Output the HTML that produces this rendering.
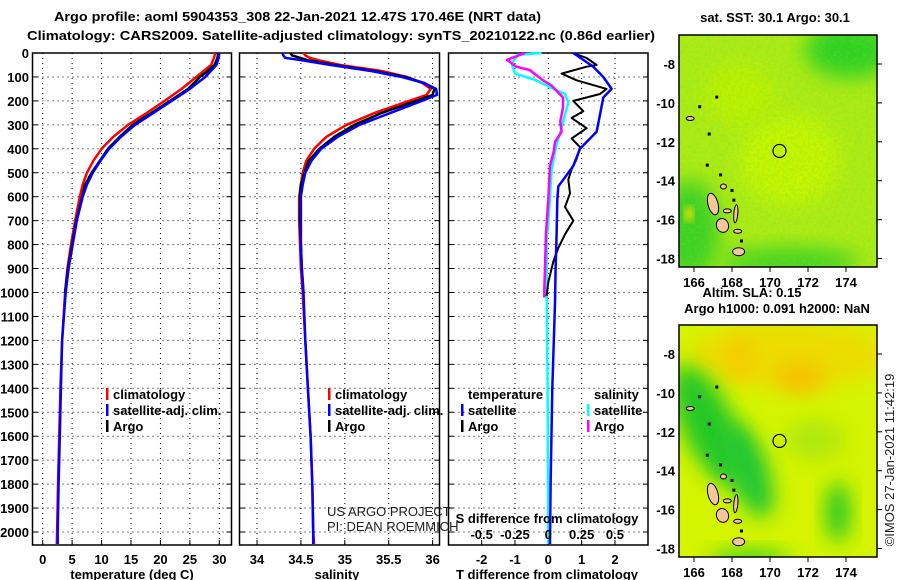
<!DOCTYPE html>
<html><head><meta charset="utf-8"><style>
body{margin:0;background:#fff;width:900px;height:580px;overflow:hidden}
svg{display:block}
text{font-family:"Liberation Sans",Arial,sans-serif;font-weight:bold;font-size:13px;fill:#000}
.thin{font-weight:normal;fill:#222}
</style></head><body>
<svg id="fig" width="900" height="580" viewBox="0 0 900 580" xmlns="http://www.w3.org/2000/svg">
<defs>
<filter id="blur8" x="-50%" y="-50%" width="200%" height="200%"><feGaussianBlur stdDeviation="10"/></filter>
<filter id="blur3"><feGaussianBlur stdDeviation="4"/></filter>
<filter id="noise" x="0" y="0" width="100%" height="100%">
  <feTurbulence type="fractalNoise" baseFrequency="0.35" numOctaves="1" seed="3" result="t"/>
  <feComponentTransfer in="t"><feFuncR type="discrete" tableValues="0 0.3 0.6 1"/><feFuncG type="discrete" tableValues="0 0.3 0.6 1"/><feFuncB type="discrete" tableValues="0 0.3 0.6 1"/></feComponentTransfer>
  <feColorMatrix type="matrix" values="0 0 0 0 0.1  0 0 0 0 0.8  0 0 0 0 0.05  1 0 0 0 -0.3"/>
</filter>
<clipPath id="cpTop"><rect x="679" y="35" width="198" height="232"/></clipPath>
<clipPath id="cpBot"><rect x="679" y="325" width="198" height="232"/></clipPath>
</defs>
<text x="54" y="21" textLength="487" lengthAdjust="spacingAndGlyphs" font-size="15.5">Argo profile: aoml 5904353_308 22-Jan-2021 12.47S 170.46E (NRT data)</text>
<text x="27" y="40" textLength="628" lengthAdjust="spacingAndGlyphs" font-size="15.5">Climatology: CARS2009. Satellite-adjusted climatology: synTS_20210122.nc (0.86d earlier)</text>
<g id="plots"></g>
<g id="maps"></g>
</svg>
<script>
// ---- data ----
const tempDepth = [0,20,50,100,150,200,250,300,350,400,450,500,550,600,700,800,900,1000,1200,1400,1600,1800,2000,2050];
const tempClim  = [29.3,29.1,28.6,26.1,23.6,20.7,17.7,14.5,12.0,10.0,8.6,7.5,6.8,6.3,5.5,4.8,4.2,3.8,3.3,3.0,2.8,2.6,2.45,2.4];
const tempSat   = [30.0,29.9,29.5,27.6,25.0,21.9,18.8,15.7,13.3,11.3,9.8,8.5,7.5,6.8,5.8,5.1,4.4,3.9,3.3,3.1,2.9,2.7,2.55,2.55];
const argoDepth = [0,20,50,80,100,150,200,250,300,350,400,450,500,550,600,700,800,900,1000];
const tempArgo  = [29.8,29.7,29.2,27.8,26.7,24.7,21.6,18.5,15.3,13.1,11.1,9.7,8.3,7.2,6.7,5.7,5.0,4.3,3.8];
const salDepth  = [0,10,20,30,50,75,100,125,150,175,200,250,300,350,400,450,500,550,600,700,800,900,1000,1200,1400,1600,1800,2000,2050];
const salClim   = [34.53,34.55,34.6,34.7,34.95,35.42,35.71,35.88,35.98,35.93,35.73,35.34,35.02,34.79,34.65,34.56,34.52,34.5,34.48,34.48,34.49,34.5,34.52,34.55,34.58,34.61,34.63,34.64,34.65];
const salSat    = [34.29,34.3,34.32,34.5,34.84,35.3,35.65,35.9,36.04,36.05,35.88,35.52,35.17,34.92,34.73,34.62,34.55,34.52,34.5,34.5,34.5,34.51,34.53,34.55,34.58,34.61,34.63,34.64,34.64];
const salArgoD  = [0,10,30,50,75,100,125,150,175,200,250,300,350,400,450,500,550,600,700,800,900,1000];
const salArgo   = [34.38,34.4,34.58,34.88,35.34,35.69,35.9,36.02,36.0,35.81,35.42,35.11,34.88,34.71,34.59,34.54,34.5,34.49,34.49,34.5,34.51,34.53];
const tdSatD    = [0,29,57,100,150,186,257,329,400,471,529,557,614,757,900,1043,1400,1800,2050];
const tdSat     = [0.75,1.05,1.35,1.65,1.9,1.65,1.55,1.45,0.95,0.75,0.45,0.3,0.27,0.25,0.22,0.2,0.12,0.07,0.05];
const tdArgoD   = [0,21,50,57,86,114,150,171,200,243,271,314,357,393,443,486,529,586,643,700,757,814,871,957,1014];
const tdArgo    = [0.75,1.15,1.45,1.15,0.4,0.85,1.75,1.55,0.75,1.05,0.7,1.15,0.7,0.95,0.85,0.7,0.6,0.65,0.5,0.75,0.5,0.3,0.15,0.0,-0.05];
const sdSatD    = [0,7,43,86,114,143,171,207,257,314,386,486,614,786,1000,1400,2050];
const sdSat     = [-0.05,-0.225,-0.275,-0.25,-0.09,0.01,0.125,0.15,0.125,0.1,0.06,0.025,0.012,-0.012,-0.012,-0.005,0.0];
const sdArgoD   = [0,29,57,71,114,136,186,229,286,329,371,414,471,614,757,900,986,1021];
const sdArgo    = [-0.175,-0.31,-0.24,-0.14,-0.04,0.025,0.11,0.11,0.09,0.1,0.05,0.04,0.012,0.0,-0.018,-0.025,-0.03,-0.03];
const depthTicks = [0,100,200,300,400,500,600,700,800,900,1000,1100,1200,1300,1400,1500,1600,1700,1800,1900,2000];
const tempTicks = [0,5,10,15,20,25,30];
const salTicks = [34,34.5,35,35.5,36];
const tdTicks = [-2,-1,0,1,2];
const sdTicks = [-0.5,-0.25,0,0.25,0.5];
const lonTicks = [166,168,170,172,174];
const latTicks = [-8,-10,-12,-14,-16,-18];

const NS='http://www.w3.org/2000/svg';
function mk(tag,attrs,parent,txt){const e=document.createElementNS(NS,tag);for(const k in attrs)e.setAttribute(k,attrs[k]);if(txt!==undefined)e.textContent=txt;parent.appendChild(e);return e;}
const plots=document.getElementById('plots');
const yD=d=>53+d*0.2395;
const yTop=53,yBot=545;
const panels=[{x0:32.5,x1:231.5},{x0:239.5,x1:439.5},{x0:448.5,x1:648}];
const xT=v=>42.7+v*(219.3-42.7)/30;
const xS=v=>257+(v-34)*87.8;
const xTD=v=>548.3+v*33.33;
const xSD=v=>548.3+v*133.3;

function frame(p,gridX,name){
  const g=mk('g',{},plots);
  
  
  depthTicks.forEach(d=>{if(d>0)mk('line',{x1:p.x0,x2:p.x1,y1:yD(d),y2:yD(d),stroke:'#000','stroke-width':1,'stroke-dasharray':'1 4'},g);
    mk('line',{x1:p.x0,x2:p.x0+5,y1:yD(d),y2:yD(d),stroke:'#000'},g);mk('line',{x1:p.x1-5,x2:p.x1,y1:yD(d),y2:yD(d),stroke:'#000'},g);});
  gridX.forEach(x=>{mk('line',{x1:x,x2:x,y1:yTop,y2:yBot,stroke:'#000','stroke-dasharray':'1 4'},g);
    mk('line',{x1:x,x2:x,y1:yBot-5,y2:yBot,stroke:'#000'},g);});
  mk('rect',{x:p.x0,y:yTop,width:p.x1-p.x0,height:yBot-yTop,fill:'none',stroke:'#000','stroke-width':1.5},g);
  return g;
}
function line(vals,deps,sx,col,w,name){
  const pts=vals.map((v,i)=>sx(v).toFixed(1)+','+yD(deps[i]).toFixed(1)).join(' ');
  const e=mk('polyline',{points:pts,fill:'none',stroke:col,'stroke-width':w,'stroke-linejoin':'round'},plots);
  
  
}
depthTicks.forEach(d=>{const t=mk('text',{x:29,y:yD(d)+5,'text-anchor':'end'},plots,String(d));
  
  });
// panel 1
frame(panels[0],tempTicks.map(xT),'temperature-panel');
line(tempClim,tempDepth,xT,'#f00',2.5,'temp-climatology-line');
line(tempArgo,argoDepth,xT,'#000',2.5,'temp-argo-line');
line(tempSat,tempDepth,xT,'#00f',2.5,'temp-satellite-line');
tempTicks.forEach(v=>{const t=mk('text',{x:xT(v),y:564,'text-anchor':'middle'},plots,String(v));
  });
mk('text',{x:132,y:579,'text-anchor':'middle',},plots,'temperature (deg C)');
// panel 2
frame(panels[1],salTicks.map(xS),'salinity-panel');
line(salClim,salDepth,xS,'#f00',2.5,'sal-climatology-line');
line(salArgo,salArgoD,xS,'#000',2.5,'sal-argo-line');
line(salSat,salDepth,xS,'#00f',2.5,'sal-satellite-line');
salTicks.forEach(v=>{const t=mk('text',{x:xS(v),y:564,'text-anchor':'middle'},plots,String(v));
  });
mk('text',{x:337,y:579,'text-anchor':'middle',},plots,'salinity');
// panel 3
frame(panels[2],tdTicks.map(xTD),'difference-panel');
line(sdSat,sdSatD,xSD,'#0ff',2.5,'sdiff-satellite-line');
line(sdArgo,sdArgoD,xSD,'#f0f',2.5,'sdiff-argo-line');
line(tdArgo,tdArgoD,xTD,'#000',2,'tdiff-argo-line');
line(tdSat,tdSatD,xTD,'#00f',2.5,'tdiff-satellite-line');
tdTicks.forEach(v=>{const t=mk('text',{x:xTD(v),y:564,'text-anchor':'middle'},plots,String(v));
  });
sdTicks.forEach(v=>{const t=mk('text',{x:xSD(v),y:539,'text-anchor':'middle'},plots,String(v));
  });
mk('text',{x:547,y:523,'text-anchor':'middle',},plots,'S difference from climatology');
mk('text',{x:547,y:579,'text-anchor':'middle',},plots,'T difference from climatology');
function leg(x,y,col,label,name){
  const g=mk('g',{},plots);
  mk('rect',{x:x,y:y-11,width:2.5,height:12,fill:col},g);
  mk('text',{x:x+7,y:y},g,label);
}
leg(106,399,'#f00','climatology','legend-climatology');
leg(106,415,'#00f','satellite-adj. clim.','legend-satellite-adj');
leg(106,431,'#000','Argo','legend-argo');
leg(328,399,'#f00','climatology','legend-climatology-2');
leg(328,415,'#00f','satellite-adj. clim.','legend-satellite-adj-2');
leg(328,431,'#000','Argo','legend-argo-2');
mk('text',{x:468,y:399,},plots,'temperature');
mk('text',{x:594,y:399,},plots,'salinity');
leg(461,415,'#00f','satellite','legend-t-satellite');
leg(461,431,'#000','Argo','legend-t-argo');
leg(587,415,'#0ff','satellite','legend-s-satellite');
leg(587,431,'#f0f','Argo','legend-s-argo');
mk('text',{x:327,y:516,class:'thin','font-size':'12',},plots,'US ARGO PROJECT');
mk('text',{x:327,y:531,class:'thin','font-size':'12',},plots,'PI: DEAN ROEMMICH');

// ---- maps ----
const maps=document.getElementById('maps');
const lx=lon=>694+(lon-166)*19;
function drawMap(y0,yLat8,clip,layers,name,noise){
  const g=mk('g',{},maps);
  const ly=lat=>yLat8+(-8-lat)*19.45;
  const c=mk('g',{'clip-path':'url(#'+clip+')'},g);
  layers(c,ly);
  if(noise) mk('rect',{x:679,y:y0,width:198,height:232,filter:'url(#noise)',opacity:0.5},c);
  // islands: [lon,lat,rx,ry,rot]
  const isl=[[167.0,-15.2,5,11,-15],[167.5,-16.3,6,7,-20],[168.35,-17.65,6,4,0],[168.2,-15.7,2,9,5],[167.75,-15.55,4,2,0],[167.55,-14.3,3,2.5,0],[168.3,-16.6,4,2,0],[165.8,-10.8,4,2,0]];
  isl.forEach(p=>mk('ellipse',{cx:lx(p[0]),cy:ly(p[1]),rx:p[2],ry:p[3],transform:'rotate('+p[4]+' '+lx(p[0])+' '+ly(p[1])+')',fill:'#f7c59a',stroke:'#000','stroke-width':1},c));
  [[166.3,-10.2],[166.8,-11.6],[166.7,-13.2],[168.1,-15],[168.5,-17.1],[167.4,-13.7],[168,-14.5],[167.2,-9.7]].forEach(p=>mk('rect',{x:lx(p[0])-1.5,y:ly(p[1])-1.5,width:3,height:3,fill:'#000'},c));
  const circ=mk('circle',{cx:lx(170.5),cy:ly(-12.47),r:6.5,fill:'none',stroke:'#000','stroke-width':1.2},g);
  
  
  mk('rect',{x:679,y:y0,width:198,height:232,fill:'none',stroke:'#000','stroke-width':1.5},g);
  lonTicks.forEach(v=>{mk('line',{x1:lx(v),x2:lx(v),y1:y0+232,y2:y0+237,stroke:'#000'},g);});
  latTicks.forEach(v=>{mk('line',{x1:877,x2:882,y1:ly(v),y2:ly(v),stroke:'#000'},g);
    const t=mk('text',{x:675,y:ly(v)+5,'text-anchor':'end'},g,String(v));
    });
  lonTicks.forEach(v=>{const t=mk('text',{x:lx(v),y:y0+252,'text-anchor':'middle'},g,String(v));
    });
}
drawMap(35,64,'cpTop',(c,ly)=>{
  mk('rect',{x:679,y:35,width:198,height:232,fill:'#b0ea14'},c);
  mk('ellipse',{cx:850,cy:50,rx:45,ry:28,fill:'#30d020',filter:'url(#blur8)'},c);
  mk('ellipse',{cx:690,cy:230,rx:30,ry:50,fill:'#40d020',filter:'url(#blur8)'},c);
  mk('ellipse',{cx:790,cy:262,rx:70,ry:14,fill:'#40d020',filter:'url(#blur8)'},c);
  mk('ellipse',{cx:790,cy:160,rx:50,ry:45,fill:'#c8f400',filter:'url(#blur8)'},c);
  mk('ellipse',{cx:740,cy:95,rx:35,ry:30,fill:'#c0f000',filter:'url(#blur8)'},c);
  mk('ellipse',{cx:689,cy:214,rx:5,ry:8,fill:'#e8e000',filter:'url(#blur3)'},c);
},'sst-map',true);
drawMap(325,354,'cpBot',(c,ly)=>{
  mk('rect',{x:679,y:325,width:198,height:232,fill:'#d4f400'},c);
  mk('ellipse',{cx:790,cy:355,rx:100,ry:32,fill:'#ecdc00',filter:'url(#blur8)'},c);
  mk('ellipse',{cx:800,cy:378,rx:25,ry:15,fill:'#f8c000',filter:'url(#blur8)'},c);
  mk('ellipse',{cx:740,cy:358,rx:12,ry:22,fill:'#f8c800',filter:'url(#blur8)'},c);
  mk('ellipse',{cx:708,cy:425,rx:26,ry:65,fill:'#28c828',filter:'url(#blur8)',transform:'rotate(-25 708 425)'},c);
  mk('ellipse',{cx:748,cy:470,rx:20,ry:50,fill:'#20c830',filter:'url(#blur8)',transform:'rotate(-20 748 470)'},c);
  mk('ellipse',{cx:838,cy:512,rx:12,ry:30,fill:'#28c828',filter:'url(#blur8)'},c);
  mk('ellipse',{cx:750,cy:560,rx:40,ry:10,fill:'#40d020',filter:'url(#blur8)'},c);
  mk('ellipse',{cx:815,cy:440,rx:30,ry:20,fill:'#b0e810',filter:'url(#blur8)'},c);
},'sla-map',false);
mk('text',{x:775,y:22,'text-anchor':'middle',},maps,'sat. SST: 30.1 Argo: 30.1');
mk('text',{x:752,y:297,'text-anchor':'middle',},maps,'Altim. SLA: 0.15');
mk('text',{x:777,y:313,'text-anchor':'middle',},maps,'Argo h1000: 0.091 h2000: NaN');
mk('text',{x:0,y:0,class:'thin','font-size':'12',transform:'translate(894 460) rotate(-90)','text-anchor':'middle',},maps,'©IMOS 27-Jan-2021 11:42:19');
</script>
</body></html>
